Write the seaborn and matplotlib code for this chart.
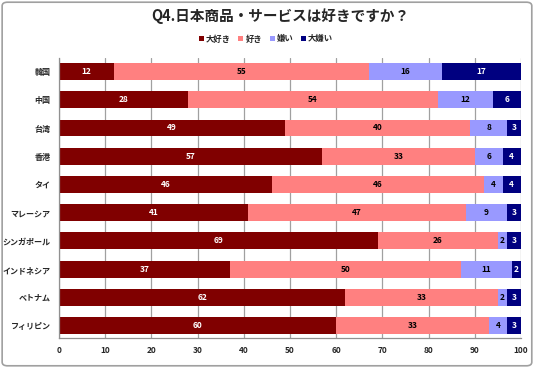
import matplotlib
matplotlib.use("Agg")
import matplotlib.pyplot as plt
import seaborn as sns
import pandas as pd
import numpy as np
from matplotlib.patches import FancyBboxPatch, Patch

countries = ["韓国", "中国", "台湾", "香港", "タイ", "マレーシア", "シンガポール", "インドネシア", "ベトナム", "フィリピン"]
love = [12, 28, 49, 57, 46, 41, 69, 37, 62, 60]
like = [55, 54, 40, 33, 46, 47, 26, 50, 33, 33]
dislike = [16, 12, 8, 6, 4, 9, 2, 11, 2, 4]
hate = [17, 6, 3, 4, 4, 3, 3, 2, 3, 3]
series_names = ["大好き", "好き", "嫌い", "大嫌い"]
colors = ["#800000", "#FF8080", "#9999FF", "#000080"]
text_colors = ["white", "black", "black", "white"]
title = "Q4.日本商品・サービスは好きですか？"
xticks = [0, 10, 20, 30, 40, 50, 60, 70, 80, 90, 100]

sns.set_theme(style="white")
plt.rcParams['font.family'] = ['Noto Sans CJK JP', 'DejaVu Sans']

fig = plt.figure(figsize=(5.35, 3.68), dpi=100)
ax = fig.add_axes([59/535, 1-338/368, (521-59)/535, (338-58)/368])

vals = [love, like, dislike, hate]
cum = np.cumsum(np.array(vals), axis=0)
df = pd.DataFrame({"country": countries})
for i in range(4):
    df[f"c{i}"] = cum[i]

for i in reversed(range(4)):
    sns.barplot(data=df, x=f"c{i}", y="country", orient="h", color=colors[i],
                width=0.6, ax=ax, saturation=1, linewidth=0, order=countries)

for i in range(4):
    for j, c in enumerate(countries):
        v = vals[i][j]
        start = cum[i][j] - v
        ax.text(start + v/2, j, str(v), ha="center", va="center",
                fontsize=6, fontweight="bold", color=text_colors[i])

ax.set_xlim(0, 100)
ax.set_ylim(9.44, -0.48)
ax.set_xticks(xticks)
ax.set_xticklabels([str(t) for t in xticks], fontsize=6, fontweight="bold")
ax.set_xlabel("")
ax.set_ylabel("")
ax.tick_params(axis="y", labelsize=5.8, length=0, pad=6)
for lbl in ax.get_yticklabels():
    lbl.set_fontweight("bold")
ax.tick_params(axis="x", length=0, pad=6)
ax.xaxis.grid(True, color="#a0a0a0", linewidth=0.9)
ax.set_axisbelow(True)
for s in ["top", "right"]:
    ax.spines[s].set_visible(False)
for s in ["left", "bottom"]:
    ax.spines[s].set_color("#909090")
    ax.spines[s].set_linewidth(0.9)

fig.text(280/535, 1-16/368, title, ha="center", va="center", fontsize=10.5, fontweight="bold")
handles = [Patch(facecolor=colors[i], edgecolor="none", label=series_names[i]) for i in range(4)]
fig.legend(handles=handles, loc="center", bbox_to_anchor=(266/535, 1-39/368), ncol=4, frameon=False,
           prop={"size": 6, "weight": "bold"}, handlelength=0.6, handleheight=0.6,
           handletextpad=0.25, columnspacing=0.9)

border = FancyBboxPatch((0.004, 0.006), 0.99, 0.988, boxstyle="round,pad=0,rounding_size=0.01",
                        transform=fig.transFigure, facecolor="none", edgecolor="#a0a0a0", linewidth=1.2)
fig.patches.append(border)

fig.savefig("out.png", dpi=100)
